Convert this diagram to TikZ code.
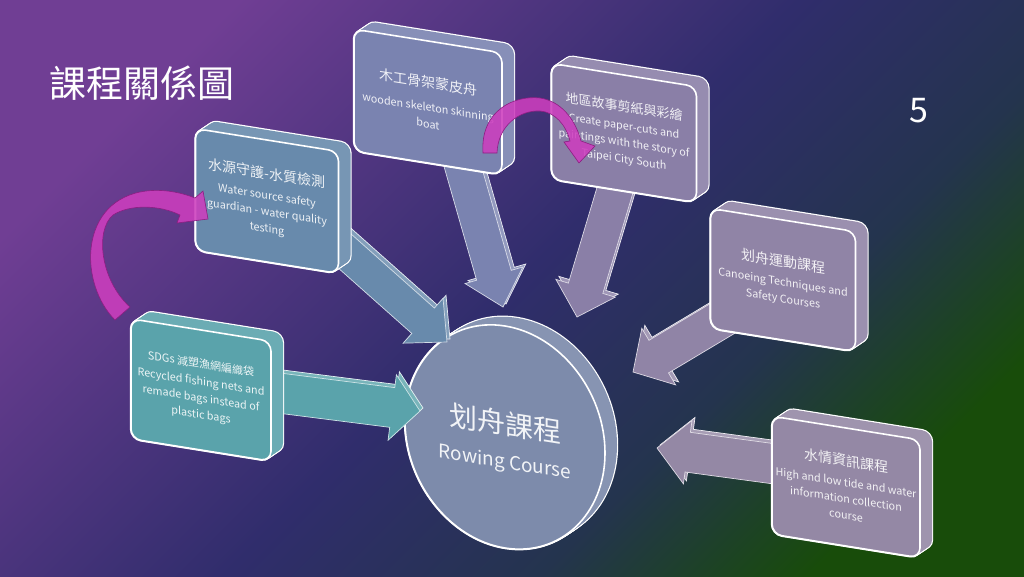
\documentclass[tikz,border=0pt]{standalone}
\usepackage{fontspec}
\setmainfont{Noto Sans CJK TC}
\usetikzlibrary{calc,shapes.geometric}
\definecolor{bgA}{RGB}{112,62,148}
\definecolor{bgB}{RGB}{48,45,108}
\definecolor{bgC}{RGB}{36,52,78}
\definecolor{bgD}{RGB}{24,76,10}
\pgfdeclarehorizontalshading{bgshade}{100bp}{color(0bp)=(bgA); color(25bp)=(bgA); color(50bp)=(bgB); color(64bp)=(bgC); color(76bp)=(bgD); color(100bp)=(bgD)}
\definecolor{cWater}{RGB}{104,138,172}
\definecolor{cWood}{RGB}{122,131,176}
\definecolor{cPaper}{RGB}{138,127,167}
\definecolor{cCanoe}{RGB}{144,132,166}
\definecolor{cInfo}{RGB}{148,136,165}
\definecolor{cSdg}{RGB}{90,163,171}
\definecolor{cHub}{RGB}{125,139,171}
\definecolor{cPink}{RGB}{205,62,190}
\definecolor{cPinkD}{RGB}{140,30,130}
\newcommand\zhf{\fontsize{14}{17}\selectfont}
\newcommand\zhs{\fontsize{11}{16.5}\selectfont}
\newcommand\enf{\fontsize{10.8}{16.5}\selectfont}
\tikzset{
  boxface/.style={draw=white, line width=1.6pt, rounded corners=10pt, transform shape, align=center, inner sep=3pt, font=\enf},
  pinkarr/.style={fill=cPink, fill opacity=0.88, draw=cPinkD, line width=0.6pt},
}
% #1 name, #2 centre, #3 colour, #4 width, #5 height, #6 text
\newcommand\tdbox[6]{%
\begin{scope}[shift={#2}, yslant=-0.16]
  \foreach \t in {0,1,...,10}{\draw[white, line width=2.4pt, rounded corners=10pt] ({-#4/2+1.2*\t},{-#5/2-1.0*\t}) rectangle ++(#4,#5);}
  \foreach \t in {0,1,...,10}{\fill[#3!90!white, rounded corners=10pt] ({-#4/2+1.2*\t},{-#5/2-1.0*\t}) rectangle ++(#4,#5);}
  \node[boxface, fill=#3, minimum width=#4pt, minimum height=#5pt, text=white!88!#3] (#1) at (0,0) {#6};
\end{scope}}
% #1 from, #2 tip, #3 half shaft, #4 half head, #5 offset, #6 style
\newcommand\arrlayer[6]{%
\filldraw[#6] ($(#1)!#3pt!90:(#2)+#5$) -- ($(bh)!#3pt!90:(#2)+#5$) -- ($(bh)!#4pt!90:(#2)+#5$) -- ($(#2)+#5$) -- ($(bh)!#4pt!-90:(#2)+#5$) -- ($(bh)!#3pt!-90:(#2)+#5$) -- ($(#1)!#3pt!-90:(#2)+#5$) -- cycle;}
% #1 from, #2 tip, #3 half shaft, #4 half head, #5 head length, #6 colour
\newcommand\blockarrow[6]{%
  \coordinate (bh) at ($(#2)!#5pt!(#1)$);
  \arrlayer{#1}{#2}{#3}{#4}{(3,-3)}{fill=#6!82!white, draw=white!85!#6, line width=0.7pt}
  \arrlayer{#1}{#2}{#3}{#4}{(0,0)}{fill=#6, draw=white!70!#6, line width=0.7pt}
}
\begin{document}
\begin{tikzpicture}[x=1pt, y=-1pt]
\useasboundingbox (0,0) rectangle (1024,576);
\fill[shading=bgshade, shading angle=-45] (0,0) rectangle (1024,576);

\node[anchor=west, text=white, font=\fontsize{37}{40}\selectfont] (title) at (46,83) {課程關係圖};
\node[text=white, font=\fontsize{34}{38}\selectfont] (pnum) at (919,111) {5};

% hub
\begin{scope}[shift={(505,437)}, yslant=-0.16]
  \foreach \t in {0,1,...,10}{\draw[white, line width=2.4pt] (1.2*\t,-1.0*\t) ellipse [x radius=100pt, y radius=111pt];}
  \foreach \t in {0,1,...,10}{\fill[cHub!92!white] (1.2*\t,-1.0*\t) ellipse [x radius=100pt, y radius=111pt];}
  \node[ellipse, draw=white, line width=1.6pt, fill=cHub, minimum width=200pt, minimum height=222pt, inner sep=0pt, transform shape] (hub) at (0,0) {};
  \node[transform shape, align=center, text=white!90!cHub, font=\fontsize{19}{26}\selectfont] (hubtext) at (0,5) {\fontsize{28}{32}\selectfont 划舟課程\\[8pt]Rowing Course};
\end{scope}

% arrow end points
\coordinate (sdgsOut) at (255,390);  \coordinate (hubW)  at (420,411);
\coordinate (waterOut) at (330,238); \coordinate (hubNW) at (447,342);
\coordinate (woodOut) at (458,150);  \coordinate (hubN1) at (503,307);
\coordinate (paperOut) at (618,180); \coordinate (hubN2) at (577,317);
\coordinate (canoeOut) at (740,308); \coordinate (hubNE) at (633,372);
\coordinate (infoOut) at (790,466);  \coordinate (hubE)  at (657,448);

\blockarrow{sdgsOut}{hubW}{20}{33}{28}{cSdg}
\blockarrow{waterOut}{hubNW}{17}{30}{32}{cWater}
\blockarrow{woodOut}{hubN1}{18}{30}{33}{cWood}
\blockarrow{paperOut}{hubN2}{18}{31}{30}{cPaper}
\blockarrow{canoeOut}{hubNE}{19}{33}{30}{cCanoe}
\blockarrow{infoOut}{hubE}{20}{32}{31}{cInfo}

% boxes
\tdbox{water}{(267,201)}{cWater}{143}{122}{\zhf 水源守護-水質檢測\\[4pt]Water source safety\\guardian - water quality\\testing}
\tdbox{wood}{(428,102)}{cWood}{148}{122}{\zhf 木工骨架蒙皮舟\\[7pt]wooden skeleton skinning\\boat}
\tdbox{paper}{(624,133)}{cPaper}{145}{116}{\fontsize{13}{16}\selectfont 地區故事剪紙與彩繪\\[2pt]Create paper-cuts and\\paintings with the story of\\Taipei City South}
\tdbox{canoe}{(783,280)}{cCanoe}{145}{120}{\zhf 划舟運動課程\\[3pt]Canoeing Techniques and\\Safety Courses}
\tdbox{info}{(846,487)}{cInfo}{148}{118}{\zhf 水情資訊課程\\[4pt]High and low tide and water\\information collection\\course}
\tdbox{sdgs}{(201,390)}{cSdg}{140}{120}{\zhs SDGs 減塑漁網編織袋\\[1pt]Recycled fishing nets and\\remade bags instead of\\plastic bags}

% pink curved arrows
\path[pinkarr] (115,320) .. controls (80,285) and (78,205) .. (140,192) .. controls (160,188) and (180,192) .. (195,198) -- (203,191) -- (208,219) -- (177,223) -- (180,215) .. controls (160,205) and (130,204) .. (113,215) .. controls (95,230) and (100,280) .. (130,307) -- cycle;
\path[pinkarr] (483,153) .. controls (480,110) and (515,95) .. (540,98) .. controls (560,101) and (575,118) .. (581,141) -- (595,146) -- (579,163) -- (564,142) -- (570,141) .. controls (566,125) and (555,112) .. (540,111) .. controls (520,110) and (498,125) .. (497,153) -- cycle;
\end{tikzpicture}
\end{document}
